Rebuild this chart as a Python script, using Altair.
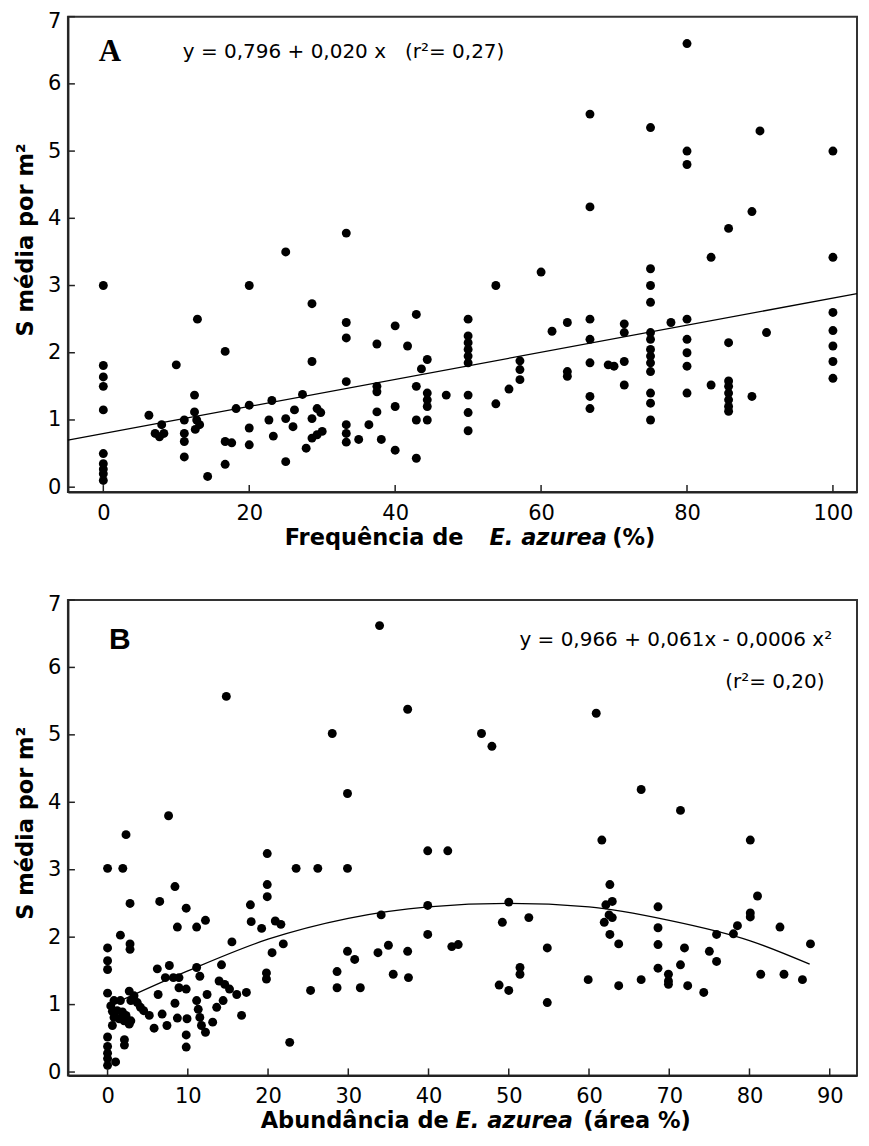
import altair as alt
import pandas as pd

# ---------------- Panel A data: Frequência de E. azurea (%) vs S média por m² --------------
A_X = [
    0, 0, 0, 0, 0, 0, 0, 0, 0, 0,
    6.25, 7.1, 7.7, 8.0, 8.3, 10, 11.1, 11.1, 11.1, 11.1,
    12.5, 12.5, 12.9, 12.8, 13.2, 12.6, 14.3, 16.7, 16.7, 16.7,
    17.6, 18.2, 20, 20, 20, 20, 22.7, 23.1, 23.3, 25,
    25, 25, 26.2, 26.0, 27.3, 27.8, 28.6, 28.6, 28.6, 28.6,
    29.3, 29.3, 29.8, 30, 33.3, 33.3, 33.3, 33.3, 33.3, 33.3,
    33.3, 35, 36.4, 37.5, 37.5, 37.5, 37.5, 38.1, 40, 40,
    40, 41.7, 42.9, 42.9, 42.9, 42.9, 43.6, 44.4, 44.4, 44.4,
    44.4, 44.4, 47, 50, 50, 50, 50, 50, 50, 50,
    50, 50, 53.8, 53.8, 55.6, 57.1, 57.1, 57.1, 60, 61.5,
    63.6, 63.6, 63.6, 66.7, 66.7, 66.7, 66.7, 66.7, 66.7, 66.7,
    69.2, 70, 71.4, 71.4, 71.4, 71.4, 75, 75, 75, 75,
    75, 75, 75, 75, 75, 75, 75, 75, 75, 77.8,
    80, 80, 80, 80, 80, 80, 80, 80, 83.3, 83.3,
    85.7, 85.7, 85.7, 85.7, 85.7, 85.7, 85.7, 85.7, 88.9, 88.9,
    90, 90.9, 100, 100, 100, 100, 100, 100, 100,
]
A_Y = [
    3.0, 1.81, 1.64, 1.5, 1.15, 0.5, 0.35, 0.27, 0.2, 0.1,
    1.07, 0.8, 0.75, 0.93, 0.8, 1.82, 1.0, 0.8, 0.68, 0.45,
    1.37, 1.12, 2.5, 1.0, 0.93, 0.86, 0.16, 2.02, 0.68, 0.34,
    0.66, 1.17, 3.0, 1.22, 0.88, 0.63, 1.0, 1.29, 0.76, 3.5,
    1.02, 0.38, 1.15, 0.9, 1.38, 0.58, 2.73, 1.87, 1.02, 0.73,
    1.17, 0.78, 1.11, 0.83, 3.78, 2.45, 2.22, 1.57, 0.93, 0.8,
    0.67, 0.71, 0.93, 2.13, 1.5, 1.42, 1.12, 0.71, 2.4, 1.2,
    0.55, 2.1, 2.57, 1.5, 1.0, 0.43, 1.76, 1.9, 1.4, 1.3,
    1.2, 1.0, 1.37, 2.5, 2.25, 2.15, 2.05, 1.95, 1.85, 1.37,
    1.11, 0.84, 3.0, 1.24, 1.46, 1.88, 1.75, 1.6, 3.2, 2.32,
    2.45, 1.72, 1.65, 5.55, 4.17, 2.5, 2.2, 1.85, 1.35, 1.17,
    1.82, 1.8, 2.43, 2.3, 1.87, 1.52, 5.35, 3.25, 3.0, 2.75,
    2.3, 2.2, 2.05, 1.95, 1.85, 1.72, 1.4, 1.25, 1.0, 2.45,
    6.6, 5.0, 4.8, 2.5, 2.2, 2.0, 1.8, 1.4, 3.42, 1.52,
    3.85, 2.15, 1.58, 1.5, 1.4, 1.3, 1.2, 1.13, 4.1, 1.35,
    5.3, 2.3, 5.0, 3.42, 2.6, 2.33, 2.1, 1.87, 1.62,
]
A_LINE_X = [-4.85, 103.3]
A_LINE_Y = [0.70, 2.88]

# ---------------- Panel B data: Abundância de E. azurea (área %) --------------
B_X = [
    0, 0, 0, 0, 0, 0, 0, 0, 0, 0,
    1.0, 1.6, 1.9, 2.3, 2.8, 2.8, 2.8, 2.1, 2.1, 0.4,
    0.8, 0.6, 1.6, 1.85, 2.06, 1.45, 2.7, 2.9, 2.7, 3.3,
    3.7, 4.1, 4.5, 5.2, 0.8, 1.2, 2.3, 2.9, 0.6, 5.8,
    6.2, 6.3, 6.5, 6.8, 7.2, 7.4, 7.6, 7.7, 8.2, 8.4,
    8.4, 8.7, 8.7, 8.9, 8.9, 9.8, 9.8, 9.8, 9.8, 9.9,
    11.1, 11.1, 11.5, 11.1, 11.3, 11.5, 11.7, 12.2, 12.2, 12.4,
    13.1, 13.6, 13.9, 14.2, 14.4, 14.6, 14.8, 15.2, 15.5, 16.1,
    16.7, 17.3, 17.8, 17.9, 19.2, 19.8, 19.8, 19.9, 19.9, 19.9,
    20.5, 20.9, 21.6, 21.9, 22.7, 23.5, 25.3, 26.2, 28.0, 28.6,
    28.6, 29.9, 29.9, 29.9, 30.8, 31.5, 33.7, 33.9, 34.1, 35.0,
    35.6, 37.4, 37.4, 37.5, 39.9, 39.9, 39.9, 42.4, 42.9, 43.7,
    46.6, 47.9, 48.8, 49.2, 50, 50, 51.4, 51.4, 52.5, 54.8,
    54.8, 59.9, 60.9, 61.6, 61.9, 62.1, 62.5, 62.6, 62.6, 62.9,
    62.9, 63.7, 63.7, 66.5, 66.5, 68.6, 68.6, 68.6, 68.6, 69.9,
    69.9, 69.9, 71.4, 71.4, 71.9, 72.3, 74.3, 75.0, 75.9, 75.9,
    78.0, 78.5, 80.1, 80.1, 80.1, 81.0, 81.4, 83.8, 84.3, 86.6,
    87.6,
]
B_Y = [
    3.02, 1.84, 1.65, 1.52, 1.17, 0.52, 0.38, 0.28, 0.2, 0.1,
    0.15, 2.03, 3.02, 3.52, 2.5, 1.9, 1.82, 0.48, 0.4, 0.98,
    0.81, 0.69, 1.06, 0.89, 0.76, 0.79, 1.2, 1.06, 0.71, 1.13,
    1.03, 0.96, 0.91, 0.84, 1.06, 0.91, 0.84, 0.76, 0.9, 0.65,
    1.53, 1.15, 2.53, 0.86, 1.4, 0.69, 3.8, 1.58, 1.4, 2.75,
    1.02, 2.15, 0.8, 1.4, 1.25, 2.43, 1.23, 0.55, 0.37, 0.79,
    2.15, 1.55, 1.42, 1.06, 0.93, 0.81, 0.69, 0.59, 2.25, 1.15,
    0.74, 0.96, 1.35, 1.59, 1.06, 1.3, 5.57, 1.23, 1.93, 1.15,
    0.84, 1.18, 2.48, 2.23, 2.13, 1.47, 1.38, 3.24, 2.78, 2.6,
    1.77, 2.24, 2.19, 1.9, 0.44, 3.02, 1.21, 3.02, 5.02, 1.49,
    1.25, 4.13, 3.02, 1.79, 1.67, 1.25, 1.77, 6.62, 2.33, 1.88,
    1.45, 5.38, 1.79, 1.4, 3.28, 2.47, 2.04, 3.28, 1.86, 1.89,
    5.02, 4.83, 1.29, 2.22, 2.52, 1.21, 1.55, 1.45, 2.29, 1.84,
    1.03, 1.37, 5.32, 3.44, 2.22, 2.48, 2.33, 2.78, 2.04, 2.53,
    2.29, 1.9, 1.28, 4.19, 1.37, 2.45, 2.14, 1.89, 1.54, 1.45,
    1.35, 1.3, 3.88, 1.59, 1.84, 1.28, 1.18, 1.79, 1.64, 2.04,
    2.05, 2.17, 3.44, 2.36, 2.3, 2.61, 1.45, 2.15, 1.45, 1.37,
    1.9,
]
B_CURVE_X = [0, 10, 20, 30, 40, 50, 60, 70, 80, 87.5]
B_CURVE_Y = [0.97, 1.5, 1.97, 2.28, 2.45, 2.5, 2.45, 2.25, 1.95, 1.6]

Y_TICKS = [0, 1, 2, 3, 4, 5, 6, 7]
A_X_TICKS = [0, 20, 40, 60, 80, 100]
B_X_TICKS = [0, 10, 20, 30, 40, 50, 60, 70, 80, 90]

W, H = 790, 476
TICK = 7


def txt(s, px, py, font, size, weight="normal", style="normal", align="left",
        baseline="middle"):
    return alt.Chart(pd.DataFrame({"t": [s]})).mark_text(
        font=font, fontSize=size, fontWeight=weight, fontStyle=style,
        align=align, baseline=baseline, color="black"
    ).encode(x=alt.value(px), y=alt.value(py), text="t:N")


def panel(px, py, lx, ly, xdom, ydom, xticks, interp, texts):
    xs = alt.Scale(domain=xdom, nice=False, zero=False)
    ys = alt.Scale(domain=ydom, nice=False, zero=False)
    xaxis = alt.Axis(values=xticks, title=None, ticks=False, labelPadding=10,
                     grid=False, format="d")
    yaxis = alt.Axis(values=Y_TICKS, title="S média por m²", ticks=False,
                     labelPadding=7, titlePadding=10, grid=False, format="d",
                     titleY=223, labelFlush=1, labelFlushOffset=6)
    pts = alt.Chart(pd.DataFrame({"x": px, "y": py})).mark_circle(
        size=80, color="black", opacity=1
    ).encode(x=alt.X("x:Q", scale=xs, axis=xaxis),
             y=alt.Y("y:Q", scale=ys, axis=yaxis))
    line = alt.Chart(pd.DataFrame({"x": lx, "y": ly})).mark_line(
        color="black", strokeWidth=1.3, interpolate=interp
    ).encode(x=alt.X("x:Q", scale=xs), y=alt.Y("y:Q", scale=ys))
    xt = alt.Chart(pd.DataFrame({"x": xticks})).mark_rule(
        color="#222", strokeWidth=1.5
    ).encode(x=alt.X("x:Q", scale=xs), y=alt.value(H), y2=alt.value(H - TICK))
    yt = alt.Chart(pd.DataFrame({"y": Y_TICKS})).mark_rule(
        color="#222", strokeWidth=1.5
    ).encode(y=alt.Y("y:Q", scale=ys), x=alt.value(0), x2=alt.value(TICK))
    return alt.layer(pts, line, xt, yt, *texts).properties(width=W, height=H)


SANS = "DejaVu Sans"
TS = 22.5
TY = H + 53

textsA = [
    txt("A", 42, 35, "Liberation Serif", 31, weight="bold", align="center"),
    txt("y = 0,796 + 0,020 x\u00a0\u00a0\u00a0(r²= 0,27)", 115, 35, SANS, 20),
    txt("Frequência de", 217, TY, SANS, TS, weight="bold", baseline="alphabetic"),
    txt("E. azurea", 422, TY, SANS, TS, weight="bold", style="italic", baseline="alphabetic"),
    txt("(%)", 545, TY, SANS, TS, weight="bold", baseline="alphabetic"),
]
textsB = [
    txt("B", 52, 40, "Liberation Sans", 30, weight="bold", align="center"),
    txt("y = 0,966 + 0,061x - 0,0006 x²", 452, 40, SANS, 20),
    txt("(r²= 0,20)", 658, 82, SANS, 20),
    txt("Abundância de", 193, TY, SANS, TS, weight="bold", baseline="alphabetic"),
    txt("E. azurea", 388, TY, SANS, TS, weight="bold", style="italic", baseline="alphabetic"),
    txt("(área %)", 516, TY, SANS, TS, weight="bold", baseline="alphabetic"),
]

chartA = panel(A_X, A_Y, A_LINE_X, A_LINE_Y, [-4.85, 103.3], [-0.073, 7],
               A_X_TICKS, "linear", textsA)
chartB = panel(B_X, B_Y, B_CURVE_X, B_CURVE_Y, [-4.94, 93.4], [-0.05, 7],
               B_X_TICKS, "monotone", textsB)

chart = alt.vconcat(chartA, chartB, spacing=42).properties(
    padding={"left": 5, "top": 1, "right": 0, "bottom": 0}
).configure(
    background="white"
).configure_view(
    stroke="#333", strokeWidth=2
).configure_axis(
    domainColor="#222", domainWidth=2,
    labelFont=SANS, labelFontSize=21, labelColor="black",
    titleFont=SANS, titleFontSize=TS, titleFontWeight="bold", titleColor="black",
)

chart.save("out.html", embed_options={"renderer": "svg", "actions": False})
